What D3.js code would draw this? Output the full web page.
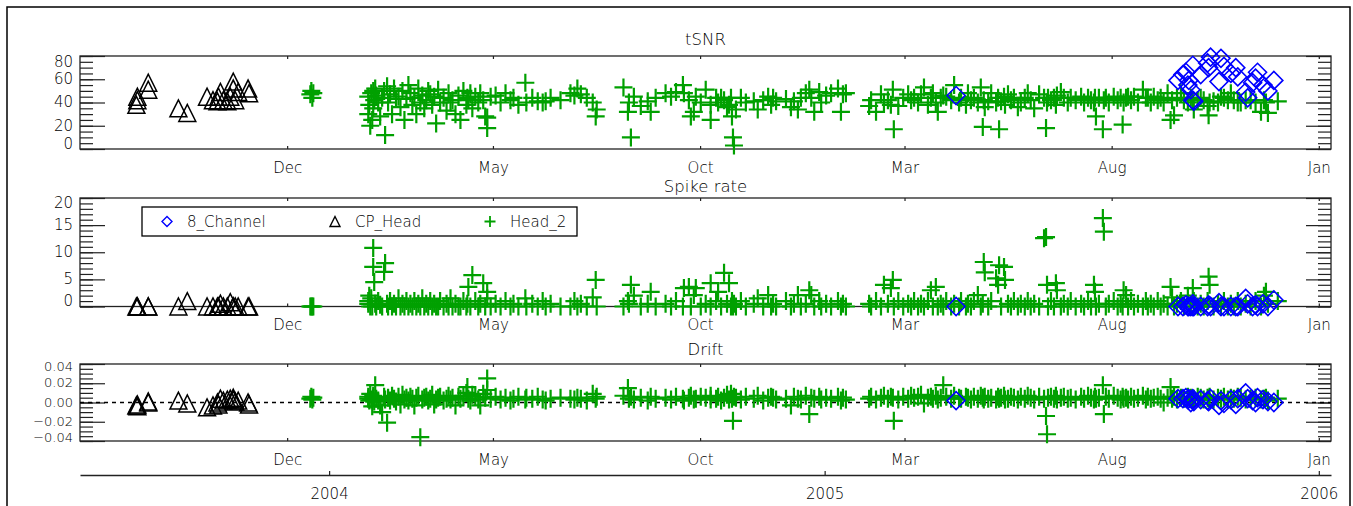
<!DOCTYPE html>
<html lang="en">
<head>
<meta charset="utf-8">
<title>tSNR / Spike rate / Drift</title>
<style>
  html, body { margin: 0; padding: 0; background: #fff; }
  svg { display: block; }
  .lbl { font-family: "DejaVu Sans", sans-serif; font-weight: 200; font-size: 15px; fill: #000; }
  .ttl { font-family: "DejaVu Sans", sans-serif; font-weight: 200; font-size: 16.5px; fill: #000; }
</style>
</head>
<body>
<svg id="chart" width="1353" height="506"></svg>
<script src="https://d3js.org/d3.v7.min.js"></script>
<script>
// ---- data (dates as decimal years) ----
const seriesNames = ["8_Channel", "CP_Head", "Head_2"];

const monthTicks = ["2003-12-01", "2004-05-01", "2004-10-01", "2005-03-01", "2005-08-01", "2006-01-01"];
const yearTicks = ["2004-01-01", "2005-01-01", "2006-01-01"];
const tsnrTicks = [0, 20, 40, 60, 80];
const spikeTicks = [0, 5, 10, 15, 20];
const driftTicks = [-0.04, -0.02, 0, 0.02, 0.04];

// CP_Head
const cpYear = [2003.610,2003.612,2003.612,2003.634,2003.634,2003.695,2003.713,2003.753,2003.765,2003.774,
  2003.776,2003.780,2003.786,2003.794,2003.800,2003.806,2003.806,2003.810,2003.816,2003.836,2003.838];
const cpTsnr = [38,42,45,57,51,35,31,45,42,41,45,49,42,41,45,58,52,42,49,52,48];
const cpSpike = [0,0,0,0,0,0,1.0,0,0,0,0,0.5,0,0,0.8,0,0,0,0,0,0];
const cpDrift = [-0.003,-0.002,-0.004,0.001,0.000,0.002,-0.001,-0.005,-0.003,0.000,
  -0.002,0.004,0.002,0.003,0.004,0.005,0.003,0.001,0.002,0.000,-0.002];

// 8_Channel
const chYear = [2005.266,2005.715,2005.725,2005.731,2005.735,2005.737,2005.741,2005.745,2005.745,2005.747,
  2005.761,2005.775,2005.777,2005.781,2005.798,2005.802,2005.808,2005.822,2005.832,2005.836,
  2005.852,2005.856,2005.866,2005.872,2005.876,2005.887,2005.897,2005.909];
const chTsnr = [46,59,64,66,55,59,51,72,42,41, 64,74,70,79,58,78,71,65,70,62, 49,44,57,61,66,55,50,59];
const chSpike = [0,0,0,0.3,0,0,0,0.5,0,0, 0,0,0.3,0,0.7,0,0,0,0,0, 1.5,0.5,0,0.3,0,0.5,0,1.2];
const chDrift = [0.002,0.004,0.004,0.005,0.003,0.004,0.000,0.003,0.004,0.001,
  0.003,0.002,0.001,0.004,-0.003,0.002,-0.001,0.003,-0.002,0.004,
  0.010,0.004,0.002,0.000,0.005,0.003,0.001,0.000];

// Head_2
const h2Year = [
  2003.962,2003.964,2003.966,2003.968,2004.079,2004.079,2004.081,2004.083,2004.085,2004.087,
  2004.089,2004.089,2004.091,2004.093,2004.095,2004.099,2004.103,2004.107,2004.111,2004.113,
  2004.117,2004.119,2004.123,2004.127,2004.131,2004.135,2004.140,2004.144,2004.148,2004.152,
  2004.156,2004.160,2004.164,2004.168,2004.172,2004.176,2004.180,2004.184,2004.188,2004.192,
  2004.196,2004.200,2004.204,2004.208,2004.212,2004.216,2004.220,2004.224,2004.231,2004.237,
  2004.241,2004.245,2004.249,2004.255,2004.261,2004.265,2004.271,2004.277,2004.279,2004.281,
  2004.285,2004.289,2004.295,2004.301,2004.305,2004.311,2004.315,2004.319,2004.319,2004.326,
  2004.336,2004.346,2004.356,2004.366,2004.372,2004.382,2004.396,2004.398,2004.410,2004.421,
  2004.431,2004.437,2004.447,2004.467,2004.487,2004.495,2004.501,2004.508,2004.520,2004.532,
  2004.538,2004.540,2004.594,2004.603,2004.605,2004.609,2004.615,2004.629,2004.643,2004.649,
  2004.659,2004.679,2004.690,2004.700,2004.714,2004.716,2004.726,2004.730,2004.736,2004.740,
  2004.750,2004.760,2004.770,2004.770,2004.781,2004.785,2004.791,2004.797,2004.803,2004.807,
  2004.811,2004.813,2004.815,2004.817,2004.821,2004.831,2004.841,2004.857,2004.865,2004.876,
  2004.886,2004.892,2004.896,2004.902,2004.922,2004.932,2004.938,2004.946,2004.952,2004.962,
  2004.969,2004.973,2004.979,2004.989,2004.993,2005.003,2005.013,2005.027,2005.033,2005.037,
  2005.043,2005.090,2005.094,2005.104,2005.114,2005.120,2005.128,2005.134,2005.138,2005.140,
  2005.149,2005.159,2005.169,2005.175,2005.181,2005.189,2005.195,2005.201,2005.209,2005.215,
  2005.219,2005.225,2005.229,2005.235,2005.240,2005.246,2005.256,2005.262,2005.272,2005.276,
  2005.286,2005.290,2005.296,2005.302,2005.310,2005.316,2005.320,2005.322,2005.324,2005.331,
  2005.337,2005.347,2005.351,2005.353,2005.357,2005.363,2005.365,2005.371,2005.377,2005.383,
  2005.391,2005.397,2005.405,2005.411,2005.417,2005.424,2005.434,2005.444,2005.448,2005.450,
  2005.452,2005.458,2005.464,2005.468,2005.470,2005.478,2005.484,2005.492,2005.498,2005.508,
  2005.519,2005.525,2005.533,2005.539,2005.545,2005.547,2005.549,2005.555,2005.563,2005.565,
  2005.569,2005.575,2005.585,2005.593,2005.599,2005.603,2005.605,2005.610,2005.614,2005.620,
  2005.626,2005.634,2005.644,2005.650,2005.654,2005.660,2005.666,2005.674,2005.680,2005.686,
  2005.694,2005.700,2005.703,2005.707,2005.713,2005.721,2005.727,2005.735,2005.741,2005.745,
  2005.747,2005.755,2005.761,2005.767,2005.775,2005.777,2005.779,2005.787,2005.796,2005.802,
  2005.808,2005.816,2005.822,2005.828,2005.836,2005.842,2005.852,2005.862,2005.872,2005.883,
  2005.889,2005.893,2005.897,2005.917];
const h2Tsnr = [
  47,50,44,48,45,30,38,20,48,25,  50,35,42,52,46,40,28,44,50,12,
  54,40,47,30,52,43,45,36,50,25,  43,55,48,38,44,30,52,40,46,35,
  42,50,47,38,45,22,51,40,44,33,  48,40,42,30,46,25,50,38,44,42,
  48,35,45,40,48,42,28,18,27,45,  46,40,48,42,44,38,57,40,44,41,
  40,41,44,42,48,46,52,47,44,40,  28,34,53,32,40,10,45,37,41,32,
  44,48,45,49,55,48,42,28,32,45,  40,51,38,25,44,40,44,42,36,38,
  44,28,10,3,34,44,40,41,34,42,   45,38,44,41,43,36,41,34,44,48,
  51,44,32,49,40,46,48,52,32,47,  48,37,42,32,47,40,42,38,51,17,
  37,44,47,42,44,40,47,53,38,44,  48,40,32,44,46,45,42,55,40,44,
  38,48,42,44,40,53,19,42,36,41,  48,40,44,17,41,45,38,47,42,44,
  36,40,44,48,42,35,47,44,18,40,  44,42,44,38,46,49,44,40,44,42,
  45,40,44,42,40,44,28,44,17,42,  44,40,45,42,44,21,40,44,45,42,
  45,40,51,44,44,40,45,42,44,40,  48,25,42,29,44,48,42,40,44,42,
  34,42,44,42,37,29,40,41,40,45,  44,42,48,42,40,40,42,42,40,32,
  42,40,31,41];
const h2Spike = [
  0,0,0,0,0.5,1.0,2.0,0,1.5,0,        10.8,7.3,4.5,0.5,0,1.0,0.3,0,6.4,8.0,
  0.5,0,1.0,0,0.5,0,1.5,0,0.5,0,      1.0,0,0.5,0,1.0,0,0.5,0,1.5,0,
  0.5,0,1.0,0,0.5,0,0,1.0,0,0.5,      0,1.5,0,0.5,0,0,1.0,0,0.5,3.6,
  0,5.8,1.0,0,0.5,4.3,0,2.7,1.5,0,    0.5,0,1.0,0,0.5,0,1.5,0,0.5,0,
  1.0,0,0.5,0,0,1.0,0,0.5,0,1.7,      4.9,0,0,1.0,0.5,4.0,2.0,0,0.5,2.7,
  0,0.5,0,1.0,0,3.4,3.6,0,2.1,3.4,    0,0.5,4.3,0,1.0,2.7,0,6.2,0.5,4.3,
  0,1.0,0,0.5,0,1.0,0,0.5,1.5,0,      2.1,0,0.5,0,1.0,0,0.5,2.1,0,0.5,
  3.0,2.1,0,1.0,0,0.5,0,1.0,0,0.5,    0,0.5,0,1.0,0,4.0,0.5,3.4,4.9,0,
  1.0,0,0.5,0,1.0,0,0.5,0,1.0,3.0,    0,3.6,0,0.5,0,1.0,0,0.5,0,1.0,
  0,0.5,0,1.0,2.1,0,0.5,8.2,6.3,0,    1.0,5.2,4.0,7.6,0,7.3,4.9,0.5,0,1.0,
  0,0.5,0,1.0,0,0.5,0,12.6,12.8,4.0,  0,1.0,0,4.3,3.0,0,0.5,0,1.0,0,
  0.5,0,1.0,0,4.0,2.7,0,0.5,16.3,13.8, 0,0.5,1.0,0,0.5,0,3.0,2.1,0,1.0,
  0,0.5,0,1.0,0,0.5,0,1.0,0,0.5,      0,3.6,1.7,0,0.5,1.0,0,2.0,0,3.4,
  1.0,0,0.5,0,1.0,5.5,4.0,0,0.5,0,    1.0,0,0.5,0,1.0,0,0.5,0,1.0,0,
  2.0,2.7,0.5,1.0];
const h2Drift = [
  0.004,0.006,0.003,0.005,0.006,0.004,0.002,0.009,0.003,-0.004,
  0.005,0.007,0.001,0.018,0.004,0.002,-0.003,-0.010,0.006,0.003,
  -0.021,0.005,0.002,0.007,0.004,0.001,0.006,-0.002,0.008,0.003,
  0.005,0.002,0.006,0.004,-0.003,0.005,0.007,-0.036,0.003,0.005,
  0.006,0.002,0.004,0.008,-0.002,0.003,0.005,0.006,0.002,0.004,
  0.007,0.003,0.005,-0.003,0.006,0.004,0.007,0.010,0.016,0.004,
  0.002,0.008,0.006,0.003,-0.003,0.009,0.005,0.025,0.013,0.004,
  0.006,0.003,0.005,0.002,0.004,0.006,0.003,0.005,0.004,0.006,
  0.003,0.002,0.004,0.005,0.004,0.003,0.005,0.004,0.002,0.009,
  0.004,0.006,0.007,0.015,0.004,0.006,0.003,0.005,0.002,0.006,
  0.004,0.005,0.003,0.006,0.004,0.002,0.005,0.007,0.003,0.004,
  0.006,0.005,0.003,0.007,0.004,0.006,0.002,0.005,0.008,0.003,
  0.009,0.004,-0.019,0.006,0.005,0.003,0.006,0.004,0.007,0.002,
  0.005,0.006,0.005,0.003,0.004,-0.003,0.006,0.004,0.003,0.007,
  -0.012,0.005,0.004,0.006,0.003,0.005,0.004,0.006,0.002,0.005,
  0.003,0.004,0.006,0.003,0.005,0.007,0.004,0.006,0.005,-0.019,
  0.003,0.006,0.004,0.007,0.005,0.006,0.008,-0.001,0.005,0.006,
  0.004,0.007,0.003,0.005,0.018,0.006,0.004,0.007,0.005,0.004,
  0.006,0.005,0.003,0.006,0.004,0.007,0.005,0.003,0.006,0.004,
  0.005,0.003,0.006,0.004,0.005,0.007,0.003,0.004,0.006,0.005,
  0.003,0.006,0.004,0.007,0.005,0.003,0.006,0.004,-0.014,-0.033,
  0.005,0.006,0.004,0.007,0.003,0.005,0.006,0.004,0.005,0.003,
  0.006,0.004,0.007,0.005,0.003,0.006,0.004,0.005,0.018,-0.012,
  0.006,0.004,0.007,0.005,0.003,0.006,0.004,0.005,0.003,0.006,
  0.004,0.005,0.007,0.003,0.006,0.004,0.005,0.006,0.004,0.000,
  0.005,0.016,0.004,0.006,0.003,0.005,0.004,0.006,0.005,0.003,
  0.004,0.006,0.005,0.003,0.005,0.004,0.006,0.003,0.005,0.004,
  0.006,0.003,0.005,0.004,0.006,0.005,0.003,0.004,0.005,0.003,
  0.004,0.005,0.002,0.004];

// ---- helpers ----
function yearToDate(v) {
  const yr = Math.floor(v);
  const a = new Date(yr, 0, 1), b = new Date(yr + 1, 0, 1);
  return new Date(+a + (v - yr) * (b - a));
}
const parseDay = d3.timeParse("%Y-%m-%d");

function symbolPath(type, r) {
  if (type === "plus") return `M${-r},0H${r}M0,${-r}V${r}`;
  if (type === "triangle") return `M${-r},${r}L0,${-r}L${r},${r}Z`;
  return `M${-r},0L0,${-r}L${r},0L0,${r}Z`; // diamond
}

const series = [
  { name: seriesNames[1], year: cpYear, tsnr: cpTsnr, spike: cpSpike, drift: cpDrift,
    sym: "triangle", color: "#000", width: 1.5, r: 8.5 },
  { name: seriesNames[2], year: h2Year, tsnr: h2Tsnr, spike: h2Spike, drift: h2Drift,
    sym: "plus", color: "#00a000", width: 2.2, r: 9 },
  { name: seriesNames[0], year: chYear, tsnr: chTsnr, spike: chSpike, drift: chDrift,
    sym: "diamond", color: "#0000ff", width: 1.6, r: 9 }
];

// label clamps keep the end labels inside the box, like the original
const panels = [
  { key: "tsnr", title: "tSNR", top: 56, bottom: 149, titleY: 45, domain: [0, 80],
    ticks: tsnrTicks, minor: 5, fmt: d3.format("d"), lblSize: 15, pad: [6, 5] },
  { key: "spike", title: "Spike rate", top: 198, bottom: 306.5, titleY: 191.5, domain: [0, 20],
    ticks: spikeTicks, minor: 1, fmt: d3.format("d"), lblSize: 15, pad: [5, 5] },
  { key: "drift", title: "Drift", top: 364, bottom: 441, titleY: 355, domain: [-0.04, 0.04],
    ticks: driftTicks, minor: 0.005, fmt: d3.format(".2f"), lblSize: 13, pad: [3, 3] }
];

const X0 = 80, X1 = 1331;
const svg = d3.select("#chart");
const x = d3.scaleTime()
  .domain([new Date(2003, 6, 1), new Date(2006, 0, 10)])
  .range([X0, X1]);
const axisColor = "#222";

// outer frame
svg.append("rect")
  .attr("x", 7).attr("y", 7).attr("width", 1343).attr("height", 520)
  .attr("fill", "none").attr("stroke", "#000").attr("stroke-width", 1.5);

function styleAxis(g) {
  g.attr("font-family", null).attr("font-size", null);
  g.selectAll("line").attr("stroke", axisColor).attr("stroke-width", 1.2);
  g.selectAll("path.domain").remove();
  g.selectAll("text").attr("class", "lbl").attr("fill", null);
}

panels.forEach(p => {
  const y = d3.scaleLinear().domain(p.domain).range([p.bottom, p.top]);
  const g = svg.append("g");

  // frame of plot box
  g.append("rect")
    .attr("x", X0).attr("y", p.top).attr("width", X1 - X0).attr("height", p.bottom - p.top)
    .attr("fill", "none").attr("stroke", axisColor).attr("stroke-width", 1.3);

  g.append("text").attr("class", "ttl")
    .attr("x", (X0 + X1) / 2).attr("y", p.titleY).attr("text-anchor", "middle")
    .text(p.title);

  // minor + major y ticks, both sides, pointing inward
  const minorVals = d3.range(p.domain[0], p.domain[1] + p.minor / 2, p.minor);
  [[13, minorVals], [25, p.ticks]].forEach(([len, vals]) => {
    g.append("g").attr("transform", `translate(${X0},0)`)
      .call(d3.axisRight(y).tickValues(vals).tickSize(len).tickSizeOuter(0).tickFormat(""))
      .call(styleAxis);
    g.append("g").attr("transform", `translate(${X1},0)`)
      .call(d3.axisLeft(y).tickValues(vals).tickSize(len).tickSizeOuter(0).tickFormat(""))
      .call(styleAxis);
  });

  // y labels
  const yl = g.append("g").attr("transform", `translate(${X0},0)`)
    .call(d3.axisLeft(y).tickValues(p.ticks).tickSize(0).tickPadding(7).tickFormat(p.fmt))
    .call(styleAxis);
  yl.selectAll("text").style("font-size", p.lblSize + "px");
  yl.selectAll(".tick")
    .attr("transform", d => `translate(0,${Math.max(p.top + p.pad[0], Math.min(p.bottom - p.pad[1], y(d)))})`);

  // month ticks on top and bottom
  const months = monthTicks.map(parseDay);
  g.append("g").attr("transform", `translate(0,${p.bottom})`)
    .call(d3.axisBottom(x).tickValues(months).tickSize(-3).tickSizeOuter(0)
      .tickPadding(13).tickFormat(d3.timeFormat("%b")))
    .call(styleAxis);
  g.append("g").attr("transform", `translate(0,${p.top})`)
    .call(d3.axisTop(x).tickValues(months).tickSize(-3).tickSizeOuter(0).tickFormat(""))
    .call(styleAxis);

  if (p.key === "drift") {
    g.append("line")
      .attr("x1", X0).attr("x2", X1).attr("y1", y(0)).attr("y2", y(0))
      .attr("stroke", "#000").attr("stroke-width", 1.3).attr("stroke-dasharray", "4,4");
  }

  // points
  series.forEach(s => {
    const n = Math.min(s.year.length, s[p.key].length);
    const pts = d3.range(n).map(i => ({ d: yearToDate(s.year[i]), v: s[p.key][i] }));
    g.append("g").selectAll("path").data(pts).join("path")
      .attr("transform", d => `translate(${x(d.d)},${y(d.v)})`)
      .attr("d", symbolPath(s.sym, s.r))
      .attr("fill", "none").attr("stroke", s.color).attr("stroke-width", s.width);
  });
});

// year axis under everything
const ya = svg.append("g").attr("transform", "translate(0,475)")
  .call(d3.axisBottom(x).tickValues(yearTicks.map(parseDay)).tickSize(-4).tickSizeOuter(0)
    .tickPadding(13).tickFormat(d3.timeFormat("%Y")));
ya.attr("font-family", null).attr("font-size", null);
ya.select("path.domain").attr("stroke", axisColor).attr("stroke-width", 1.3);
ya.selectAll("line").attr("stroke", axisColor).attr("stroke-width", 1.2);
ya.selectAll("text").attr("class", "lbl").attr("fill", null);

// legend inside the spike-rate panel
const leg = svg.append("g");
leg.append("rect")
  .attr("x", 142).attr("y", 207).attr("width", 435).attr("height", 29)
  .attr("fill", "#fff").attr("stroke", "#000").attr("stroke-width", 1.3);
const legendOrder = [series[2], series[0], series[1]];
const legX = [167, 335, 490];
legendOrder.forEach((s, i) => {
  leg.append("path")
    .attr("transform", `translate(${legX[i]},221.5)`)
    .attr("d", symbolPath(s.sym, s.sym === "plus" ? 5.5 : 5))
    .attr("fill", "none").attr("stroke", s.color).attr("stroke-width", s.sym === "plus" ? 1.8 : 1.4);
  leg.append("text").attr("class", "lbl")
    .attr("x", legX[i] + 20).attr("y", 227)
    .text(s.name);
});
</script>
</body>
</html>
